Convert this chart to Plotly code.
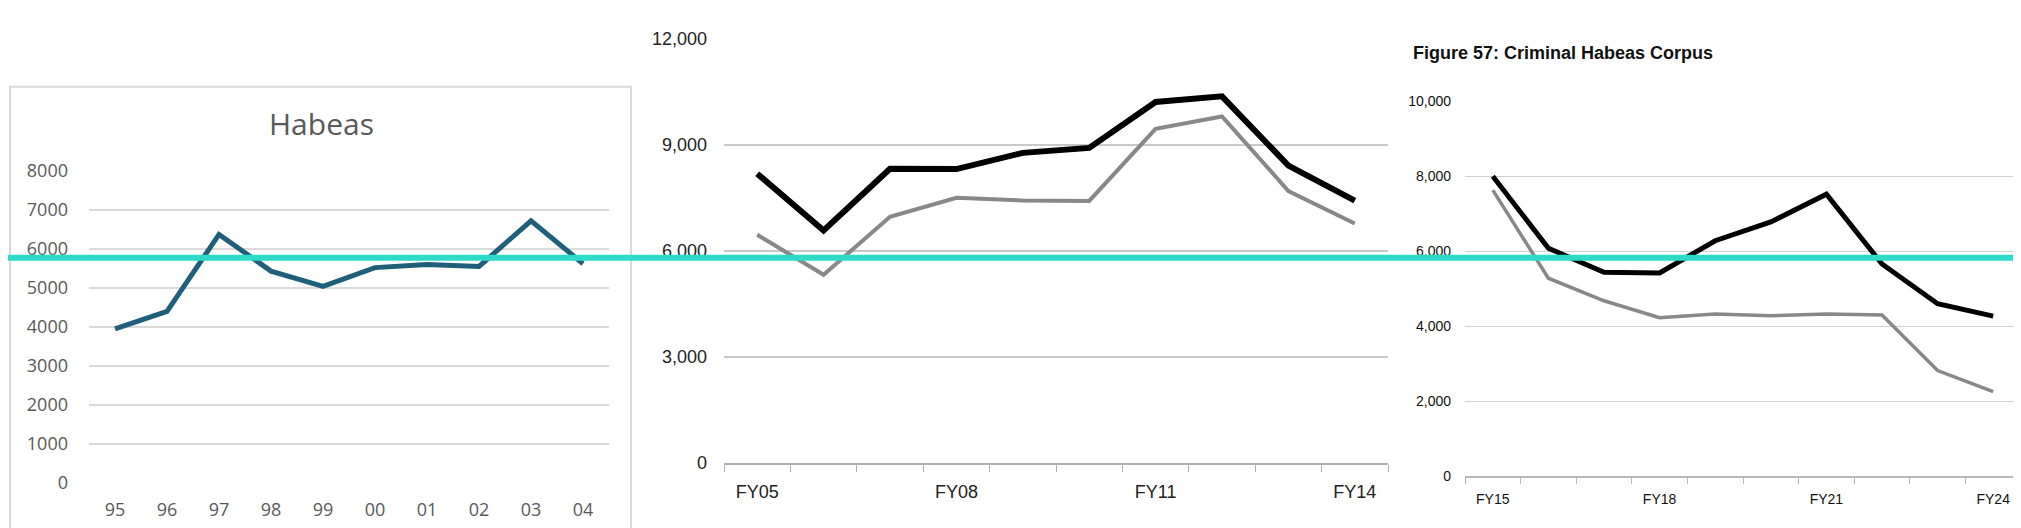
import plotly.graph_objects as go

W, H = 2021, 528

# chart 1: Habeas, 1995-2004
years1 = ["95", "96", "97", "98", "99", "00", "01", "02", "03", "04"]
habeas = [3950, 4400, 6370, 5430, 5040, 5520, 5600, 5550, 6720, 5620]

# chart 2: FY05-FY14
years2 = ["FY05", "FY06", "FY07", "FY08", "FY09", "FY10", "FY11", "FY12", "FY13", "FY14"]
total2 = [8190, 6580, 8330, 8320, 8780, 8920, 10220, 10380, 8420, 7430]
other2 = [6460, 5330, 6970, 7510, 7430, 7420, 9460, 9810, 7700, 6780]

# chart 3: Figure 57, FY15-FY24
years3 = ["FY15", "FY16", "FY17", "FY18", "FY19", "FY20", "FY21", "FY22", "FY23", "FY24"]
total3 = [8000, 6080, 5440, 5420, 6280, 6780, 7520, 5660, 4600, 4270]
other3 = [7630, 5280, 4680, 4230, 4330, 4280, 4330, 4300, 2820, 2260]

teal_level = 248  # pixel row of the overlay line


def px(x0, x1):
    return [x0 / W, x1 / W]


def py(top, bottom):
    return [1 - bottom / H, 1 - top / H]


fig = go.Figure()
idx = list(range(10))

fig.add_trace(go.Scatter(x=idx, y=habeas, mode="lines", line=dict(color="#1f5f7a", width=5),
                         xaxis="x", yaxis="y", showlegend=False))
fig.add_trace(go.Scatter(x=idx, y=total2, mode="lines", line=dict(color="#000000", width=6),
                         xaxis="x2", yaxis="y2", showlegend=False))
fig.add_trace(go.Scatter(x=idx, y=other2, mode="lines", line=dict(color="#888888", width=4),
                         xaxis="x2", yaxis="y2", showlegend=False))
fig.add_trace(go.Scatter(x=idx, y=total3, mode="lines", line=dict(color="#000000", width=5),
                         xaxis="x3", yaxis="y3", showlegend=False))
fig.add_trace(go.Scatter(x=idx, y=other3, mode="lines", line=dict(color="#888888", width=3.5),
                         xaxis="x3", yaxis="y3", showlegend=False))

grey1 = "#595959"
arial = "Liberation Sans, Arial, sans-serif"

layout = dict(
    width=W, height=H, margin=dict(l=0, r=0, t=0, b=0),
    paper_bgcolor="white", plot_bgcolor="white",
    xaxis=dict(domain=px(81, 601), anchor="y", range=[-0.5, 9.5], tickvals=idx, ticktext=years1,
               showgrid=False, zeroline=False, showline=False, ticks="",
               ticklabelstandoff=14, tickfont=dict(family="Open Sans, sans-serif", size=18, color=grey1)),
    yaxis=dict(domain=py(157, 484), anchor="x", range=[0, 8000], dtick=1000, showgrid=True,
               gridcolor="#d9d9d9", gridwidth=1.5, zeroline=False, showline=False, ticklabelstandoff=20,
               tickfont=dict(family="Open Sans, sans-serif", size=18, color=grey1)),
    xaxis2=dict(domain=px(716, 1380), anchor="y2", range=[-0.5, 9.5], tickvals=[0, 3, 6, 9],
                ticktext=[years2[i] for i in [0, 3, 6, 9]], showgrid=False, zeroline=False,
                showline=True, linecolor="#b0b0b0", linewidth=1.5, ticks="",
                minor=dict(tickmode="linear", tick0=-0.5, dtick=1, ticks="outside", ticklen=7,
                           tickcolor="#b0b0b0", showgrid=False),
                ticklabelstandoff=12, tickfont=dict(family=arial, size=18, color="#222")),
    yaxis2=dict(domain=py(19, 463), anchor="x2", range=[0, 12000], dtick=3000, tickformat=",",
                showgrid=True, gridcolor="#c8c8c8", gridwidth=1.5, zeroline=False, showline=False,
                ticklabelstandoff=16, tickfont=dict(family=arial, size=18, color="#222")),
    xaxis3=dict(domain=px(1457, 2013), anchor="y3", range=[-0.5, 9.5], tickvals=[0, 3, 6, 9],
                ticktext=[years3[i] for i in [0, 3, 6, 9]], showgrid=False, zeroline=False,
                showline=True, linecolor="#b8b8b8", linewidth=1.5, ticks="",
                minor=dict(tickmode="linear", tick0=-0.5, dtick=1, ticks="outside", ticklen=6,
                           tickcolor="#b8b8b8", showgrid=False),
                ticklabelstandoff=9, tickfont=dict(family=arial, size=14, color="#111")),
    yaxis3=dict(domain=py(84, 477), anchor="x3", range=[0, 10000], dtick=2000, tickformat=",",
                showgrid=True, gridcolor="#d0d0d0", gridwidth=1.2, zeroline=False, showline=False,
                ticklabelstandoff=13, tickfont=dict(family=arial, size=14, color="#111")),
    shapes=[
        dict(type="rect", xref="paper", yref="paper", x0=2 / W, x1=623 / W, y0=-0.02, y1=1 - 69 / H,
             line=dict(color="#d9d9d9", width=2), fillcolor="rgba(0,0,0,0)", layer="below"),
        dict(type="line", xref="paper", yref="paper", x0=0, x1=1, y0=1 - teal_level / H,
             y1=1 - teal_level / H, line=dict(color="#2edbc9", width=6)),
    ],
    annotations=[
        dict(text="Habeas", xref="paper", yref="paper", x=313 / W, y=1 - 107 / H,
             xanchor="center", yanchor="middle", showarrow=False,
             font=dict(family="Open Sans, sans-serif", size=30, color=grey1)),
        dict(text="<b>Figure 57: Criminal Habeas Corpus</b>", xref="paper", yref="paper",
             x=1403 / W, y=1 - 33 / H, xanchor="left", yanchor="middle", showarrow=False,
             font=dict(family=arial, size=18, color="#111")),
    ],
)

fig.update_layout(**layout)
fig.write_html("out.html")
